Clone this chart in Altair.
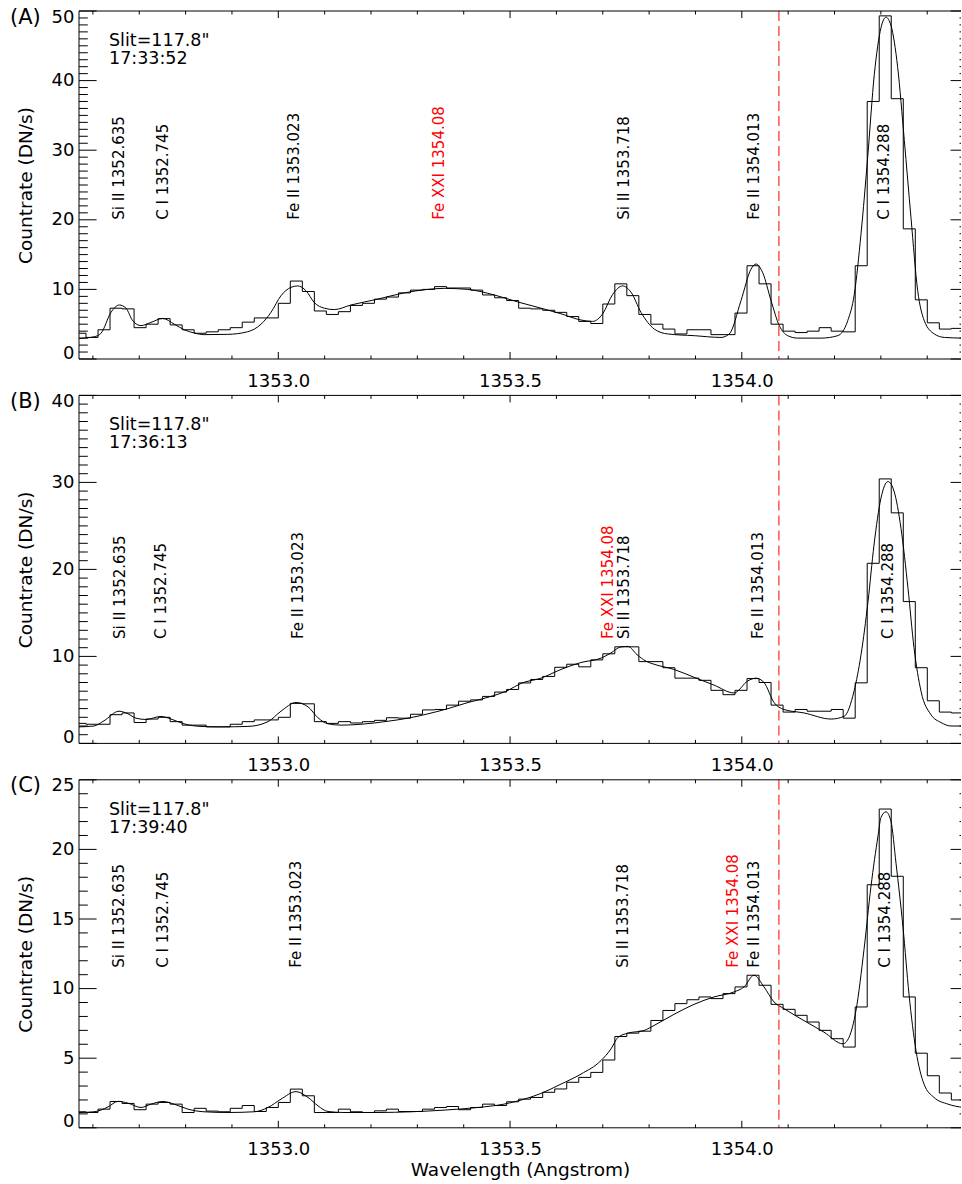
import altair as alt
import pandas as pd

FONT = "DejaVu Sans"

# Spectral pixel grid (2x binned FUV detector): left edge of the first pixel and pixel width, Angstrom
PIXEL_EDGE0 = 1352.55917
PIXEL_WIDTH = 0.02593

# Observed count rates per spectral pixel (DN/s)
COUNTS_A = [3.7, 3.1, 4.2, 7.3, 7.2, 4.5, 5.0, 5.8, 4.9, 4.2, 3.7, 3.9, 4.2, 4.5, 5.3, 5.9, 5.9, 8.0,
            11.2, 9.7, 6.9, 6.4, 6.8, 7.7, 8.0, 8.6, 8.9, 9.5, 9.9, 10.0, 10.4, 10.2, 10.2, 9.9, 9.2,
            8.8, 8.4, 7.3, 7.2, 7.0, 6.7, 6.1, 5.4, 5.1, 7.9, 10.8, 9.1, 6.4, 5.0, 4.3, 3.6, 4.2, 4.2,
            3.5, 3.5, 6.6, 13.4, 10.8, 5.0, 4.0, 3.8, 4.0, 4.5, 4.0, 3.9, 13.4, 37.0, 49.3, 37.4,
            18.7, 8.5, 5.2, 4.3, 4.4]
COUNTS_B = [2.3, 2.2, 2.2, 3.3, 3.5, 2.4, 2.8, 3.0, 2.5, 2.1, 2.1, 1.9, 1.9, 2.2, 2.5, 2.7, 2.7, 3.0,
            4.6, 4.55, 2.5, 2.3, 2.5, 2.35, 2.5, 2.65, 2.95, 2.9, 3.35, 3.85, 3.9, 4.4, 4.85, 5.0,
            5.4, 5.9, 6.2, 6.95, 7.35, 7.7, 8.75, 9.1, 8.8, 9.6, 10.3, 11.1, 11.1, 9.4, 9.4, 8.7,
            7.5, 7.5, 7.25, 6.1, 5.6, 6.1, 7.45, 7.0, 4.4, 3.6, 3.9, 3.7, 3.7, 3.9, 2.9, 6.96, 20.7,
            30.4, 26.5, 16.3, 8.7, 4.9, 3.6, 3.5]
COUNTS_C = [1.15, 1.1, 1.34, 1.89, 1.75, 1.3, 1.7, 1.82, 1.7, 1.1, 1.4, 1.2, 1.15, 1.4, 1.6, 1.17,
            1.46, 1.82, 2.78, 2.3, 1.1, 1.1, 1.34, 1.15, 1.1, 1.22, 1.34, 1.17, 1.17, 1.34, 1.46,
            1.53, 1.3, 1.46, 1.7, 1.6, 1.87, 2.06, 2.18, 2.55, 2.79, 3.27, 3.62, 3.98, 4.87, 6.56,
            6.8, 6.94, 7.71, 8.43, 8.92, 9.2, 9.4, 9.28, 9.64, 10.12, 10.96, 10.24, 8.87, 8.51,
            8.08, 7.6, 7.0, 6.4, 5.8, 8.68, 17.46, 22.9, 18.07, 9.4, 5.36, 3.74, 2.5, 2.0]

# Multi-Gaussian fit profiles (wavelength, DN/s)
FIT_WAVE_A = [1352.5706, 1352.6030, 1352.6175, 1352.6390, 1352.6570, 1352.6714, 1352.6859,
              1352.7038, 1352.7253, 1352.7506, 1352.7756, 1352.7972, 1352.8188, 1352.8403,
              1352.8908, 1352.9340, 1352.9627, 1352.9842, 1353.0058, 1353.0274, 1353.0418,
              1353.0598, 1353.0777, 1353.0992, 1353.1208, 1353.1568, 1353.2144, 1353.2718,
              1353.3223, 1353.3581, 1353.4086, 1353.4660, 1353.5165, 1353.5668, 1353.6099,
              1353.6531, 1353.6783, 1353.6999, 1353.7215, 1353.7430, 1353.7609, 1353.7825,
              1353.8112, 1353.8401, 1353.8975, 1353.9551, 1353.9730, 1353.9983, 1354.0198,
              1354.0306, 1354.0451, 1354.0630, 1354.0809, 1354.0990, 1354.1206, 1354.1709,
              1354.2069, 1354.2285, 1354.2427, 1354.2572, 1354.2716, 1354.2859, 1354.3003,
              1354.3111, 1354.3219, 1354.3363, 1354.3506, 1354.3650, 1354.3795, 1354.3937,
              1354.4153, 1354.4369, 1354.4772]
FIT_A = [2.96, 3.2, 3.7, 6.7, 7.76, 7.3, 5.5, 4.8, 5.26, 5.83, 5.0, 4.2, 3.73, 3.5, 3.54, 3.92,
         5.0, 6.7, 9.1, 10.3, 10.5, 9.8, 8.1, 7.3, 7.1, 7.76, 8.6, 9.5, 10.0, 10.15, 10.0, 9.2, 8.2,
         7.3, 6.5, 5.6, 5.4, 6.5, 9.3, 10.5, 9.6, 6.7, 4.3, 3.6, 3.35, 3.1, 3.6, 8.4, 12.9, 13.65,
         12.4, 8.4, 4.8, 3.35, 3.0, 3.0, 3.35, 5.5, 9.3, 18.0, 29.0, 40.9, 47.6, 49.1, 47.9, 41.9,
         31.4, 20.3, 9.8, 5.5, 3.6, 3.1, 3.0]

FIT_WAVE_B = [1352.5700, 1352.6024, 1352.6239, 1352.6563, 1352.6757, 1352.6930, 1352.7146,
              1352.7469, 1352.7685, 1352.7965, 1352.8332, 1352.8764, 1352.9346, 1352.9778,
              1353.0058, 1353.0382, 1353.0641, 1353.0856, 1353.1072, 1353.1353, 1353.1784,
              1353.2367, 1353.2798, 1353.3230, 1353.3661, 1353.4093, 1353.4524, 1353.4956,
              1353.5236, 1353.5668, 1353.6099, 1353.6531, 1353.6962, 1353.7178, 1353.7394,
              1353.7545, 1353.7739, 1353.7933, 1353.8106, 1353.8537, 1353.8969, 1353.9400,
              1353.9832, 1354.0134, 1354.0306, 1354.0479, 1354.0695, 1354.0910, 1354.1342,
              1354.1924, 1354.2205, 1354.2421, 1354.2572, 1354.2723, 1354.2852, 1354.3003,
              1354.3154, 1354.3284, 1354.3435, 1354.3586, 1354.3715, 1354.3866, 1354.4082,
              1354.4298, 1354.4513, 1354.4772]
FIT_B = [1.9, 2.0, 2.6, 3.7, 3.4, 2.9, 2.75, 3.1, 2.8, 2.25, 1.95, 1.9, 1.95, 2.5, 3.7, 4.7, 4.2,
         2.95, 2.25, 2.1, 2.2, 2.55, 2.9, 3.4, 4.0, 4.7, 5.3, 6.1, 6.9, 7.5, 8.5, 9.3, 9.8, 10.4,
         11.1, 11.15, 10.2, 9.45, 9.1, 8.5, 7.6, 6.7, 5.8, 7.2, 7.5, 7.0, 4.7, 3.9, 3.5, 2.8, 3.1,
         6.0, 10.2, 16.3, 22.8, 28.2, 30.1, 29.0, 24.7, 17.8, 11.0, 6.0, 3.3, 2.4, 2.0, 2.0]

FIT_WAVE_C = [1352.5700, 1352.6024, 1352.6326, 1352.6541, 1352.6757, 1352.7038, 1352.7253,
              1352.7512, 1352.7750, 1352.8052, 1352.8397, 1352.8915, 1352.9476, 1352.9778,
              1353.0058, 1353.0382, 1353.0641, 1353.0856, 1353.1072, 1353.1417, 1353.2151,
              1353.2863, 1353.3575, 1353.4308, 1353.4869, 1353.5236, 1353.5668, 1353.6099,
              1353.6531, 1353.6962, 1353.7178, 1353.7329, 1353.7545, 1353.7890, 1353.8106,
              1353.8537, 1353.8969, 1353.9400, 1353.9832, 1354.0047, 1354.0263, 1354.0479,
              1354.0695, 1354.0910, 1354.1342, 1354.1773, 1354.2183, 1354.2313, 1354.2464,
              1354.2636, 1354.2787, 1354.2938, 1354.3003, 1354.3111, 1354.3219, 1354.3327,
              1354.3478, 1354.3607, 1354.3758, 1354.3931, 1354.4147, 1354.4449, 1354.4772]
FIT_C = [1.1, 1.15, 1.5, 1.9, 1.77, 1.46, 1.7, 1.89, 1.7, 1.34, 1.15, 1.1, 1.15, 1.46, 2.06, 2.6,
         2.18, 1.58, 1.17, 1.1, 1.1, 1.15, 1.27, 1.46, 1.7, 1.99, 2.47, 3.14, 3.86, 4.83, 5.67, 6.5,
         6.8, 6.99, 7.35, 8.15, 8.87, 9.4, 9.76, 10.12, 10.96, 10.12, 9.04, 8.56, 7.7, 6.87, 6.03,
         6.5, 8.44, 12.8, 17.35, 20.96, 22.3, 22.7, 22.0, 19.0, 14.4, 9.6, 5.55, 3.14, 2.18, 1.7,
         1.46]

# Line identifications, placed at the fitted line positions of each exposure
LINE_NAMES = ["Si II 1352.635", "C I 1352.745", "Fe II 1353.023", "Fe XXI 1354.08",
              "Si II 1353.718", "Fe II 1354.013", "C I 1354.288"]
LINE_COLORS = ["black", "black", "black", "red", "black", "black", "black"]
LINE_POS_A = [1352.6563, 1352.7506, 1353.0345, 1353.3474, 1353.7452, 1354.0270, 1354.3074]
LINE_POS_B = [1352.6585, 1352.7469, 1353.0418, 1353.7120, 1353.7452, 1354.0356, 1354.3161]
LINE_POS_C = [1352.6570, 1352.7506, 1353.0382, 1353.9817, 1353.7430, 1354.0270, 1354.3096]
LABEL_BASE = [20, 12, 11.5]

PANEL_TAGS = ["(A)", "(B)", "(C)"]
SLIT = 'Slit=117.8"'
TIMES = ["17:33:52", "17:36:13", "17:39:40"]
Y_MAX = [50, 40, 25]
Y_STEP = [10, 10, 5]

X_RANGE = [1352.570, 1354.4729]
X_LABELS = [1353.0, 1353.5, 1354.0]
X_MINOR = [1352.6, 1352.7, 1352.8, 1352.9, 1353.1, 1353.2, 1353.3, 1353.4,
           1353.6, 1353.7, 1353.8, 1353.9, 1354.1, 1354.2, 1354.3, 1354.4]
FE_XXI_REST = 1354.08

W, H = 882, 348
MAJ_Y, MIN_Y = 17.6, 8.8      # y tick lengths (px)
MAJ_X, MIN_X = 7.0, 3.5       # x tick lengths (px)
RIGHT_MAJ, RIGHT_MIN = 10.4, 1.5   # visible stubs of the right-hand axis ticks


def rules(df):
    return alt.Chart(df).mark_rule(color="black", strokeWidth=1)


def panel(i, counts, fit_wave, fit_vals, label_pos, last):
    ymax, ystep = Y_MAX[i], Y_STEP[i]
    xscale = alt.Scale(domain=X_RANGE, nice=False, zero=False)
    yscale = alt.Scale(domain=[0, ymax], nice=False, zero=False)
    x_axis = alt.Axis(values=X_LABELS, format=".1f", labelFont=FONT, labelFontSize=18,
                      labelColor="black", labelPadding=13, labelFlush=False, domain=False,
                      ticks=False, tickSize=0, grid=False, titleFont=FONT, titleFontSize=18.5,
                      titleFontWeight="normal", titleColor="black", titlePadding=2)
    y_axis = alt.Axis(values=list(range(0, ymax + 1, ystep)), format="d", labelFont=FONT,
                      labelFontSize=18, labelColor="black", labelPadding=5, labelFlush=True,
                      labelFlushOffset=3, domain=False, ticks=False, tickSize=0, grid=False,
                      titleFont=FONT, titleFontSize=18.5, titleFontWeight="normal",
                      titleColor="black", titlePadding=16)
    if last:
        X = alt.X("w:Q", scale=xscale, axis=x_axis, title="Wavelength (Angstrom)")
    else:
        X = alt.X("w:Q", scale=xscale, axis=x_axis, title=None)
    Y = alt.Y("v:Q", scale=yscale, axis=y_axis, title="Countrate (DN/s)")

    # observed spectrum as a histogram: each pixel holds its value up to the next edge
    edges = [PIXEL_EDGE0 + PIXEL_WIDTH * k for k in range(len(counts) + 1)]
    hist_df = pd.DataFrame({"w": edges, "v": counts + counts[-1:]})
    hist = alt.Chart(hist_df).mark_line(interpolate="step-after", color="black",
                                        strokeWidth=1, clip=True).encode(x=X, y=Y)

    fit_df = pd.DataFrame({"w": fit_wave, "v": fit_vals})
    fit = alt.Chart(fit_df).mark_line(interpolate="monotone", color="black",
                                      strokeWidth=1, clip=True).encode(x=X, y=Y)

    rest = alt.Chart(pd.DataFrame({"w": [FE_XXI_REST]})).mark_rule(
        color="#ff2a2a", strokeWidth=1.2, strokeDash=[10, 5]).encode(x=X)

    lab_df = pd.DataFrame({"w": label_pos, "v": [LABEL_BASE[i]] * len(LINE_NAMES),
                           "text": LINE_NAMES, "color": LINE_COLORS})
    labels = alt.Chart(lab_df).mark_text(angle=270, align="left", baseline="middle",
                                         font=FONT, fontSize=15).encode(
        x=X, y=Y, text="text:N", color=alt.Color("color:N", scale=None))

    note_df = pd.DataFrame({"t": [SLIT + "\n" + TIMES[i]], "p": [PANEL_TAGS[i]]})
    note = alt.Chart(note_df).mark_text(align="left", baseline="alphabetic", font=FONT,
                                        fontSize=17.5, lineHeight=18, lineBreak="\n",
                                        color="black").encode(
        x=alt.value(30), y=alt.value(35), text="t:N")
    tag = alt.Chart(note_df).mark_text(align="left", baseline="alphabetic", font=FONT,
                                       fontSize=21, color="black").encode(
        x=alt.value(-69), y=alt.value(12.5), text="p:N")

    ymaj = pd.DataFrame({"v": list(range(0, ymax + 1, ystep))})
    ymin = pd.DataFrame({"v": [v for v in range(0, ymax + 1) if v % ystep]})
    xmaj = pd.DataFrame({"w": X_LABELS})
    xmin = pd.DataFrame({"w": X_MINOR})
    ticks = [
        rules(ymaj).encode(y=Y, x=alt.value(0), x2=alt.value(MAJ_Y)),
        rules(ymin).encode(y=Y, x=alt.value(0), x2=alt.value(MIN_Y)),
        rules(ymaj).encode(y=Y, x=alt.value(W - RIGHT_MAJ), x2=alt.value(W)),
        rules(ymin).encode(y=Y, x=alt.value(W - RIGHT_MIN), x2=alt.value(W)),
        rules(xmaj).encode(x=X, y=alt.value(H - MAJ_X), y2=alt.value(H)),
        rules(xmin).encode(x=X, y=alt.value(H - MIN_X), y2=alt.value(H)),
        rules(xmaj).encode(x=X, y=alt.value(0), y2=alt.value(MAJ_X)),
        rules(xmin).encode(x=X, y=alt.value(0), y2=alt.value(MIN_X)),
    ]
    one = pd.DataFrame({"k": [0]})
    frame = [
        rules(one).encode(x=alt.value(0), x2=alt.value(W), y=alt.value(0)),
        rules(one).encode(x=alt.value(0), x2=alt.value(W), y=alt.value(H)),
        rules(one).encode(x=alt.value(0), y=alt.value(0), y2=alt.value(H)),
    ]
    return alt.layer(hist, fit, rest, labels, note, tag, *ticks, *frame).properties(
        width=W, height=H)


chart = alt.vconcat(
    panel(0, COUNTS_A, FIT_WAVE_A, FIT_A, LINE_POS_A, False),
    panel(1, COUNTS_B, FIT_WAVE_B, FIT_B, LINE_POS_B, False),
    panel(2, COUNTS_C, FIT_WAVE_C, FIT_C, LINE_POS_C, True),
    spacing=36.4,
    bounds="flush",
).properties(
    padding={"left": 9, "top": 6, "right": 0, "bottom": 3},
).configure_view(stroke="transparent")

chart.save("out.html", embed_options={"renderer": "svg", "actions": False})
